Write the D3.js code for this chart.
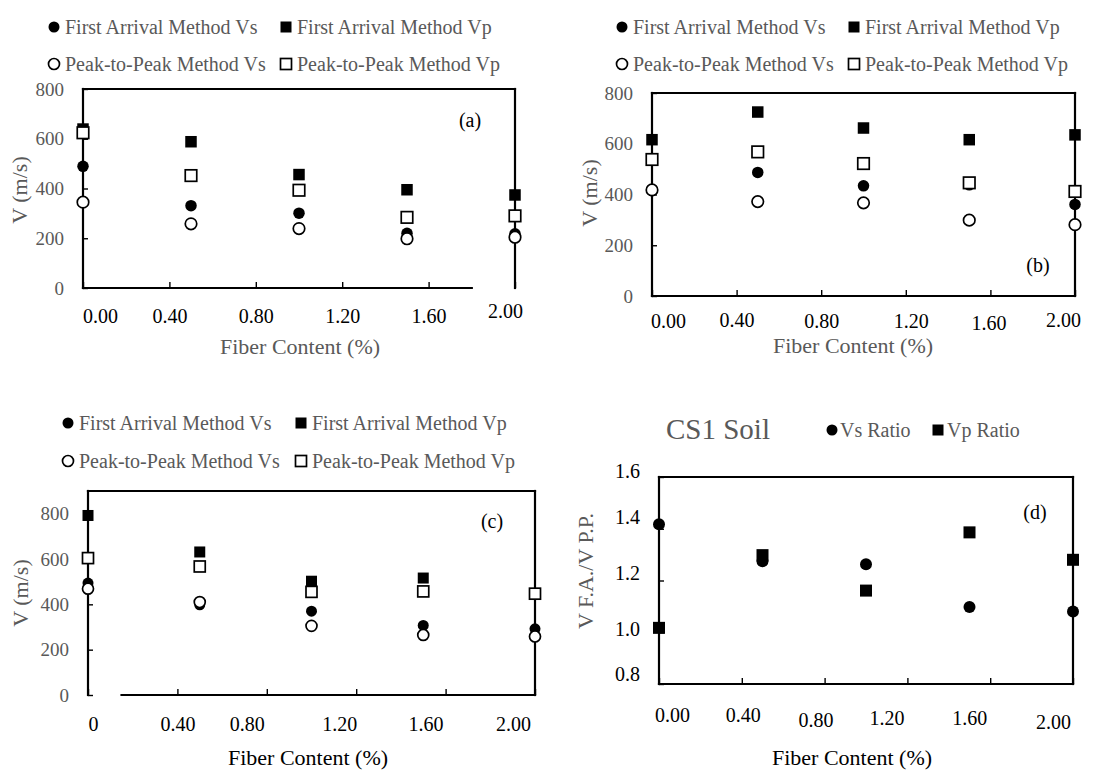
<!DOCTYPE html>
<html>
<head>
  <title>Wave velocity vs fiber content</title>
  <script src="https://cdn.jsdelivr.net/npm/d3@7"></script>
  <style>
    body { margin: 0; background: #fff; }
    svg { display: block; }
  </style>
</head>
<body>
  <div id="chart"></div>
  <script>
    // ---- data ----
    const fiber = [0, 0.5, 1.0, 1.5, 2.0];
    const xTicks = [0, 0.4, 0.8, 1.2, 1.6, 2.0];
    const xTickLabels = ["0.00", "0.40", "0.80", "1.20", "1.60", "2.00"];
    const xTickLabelsC = ["0", "0.40", "0.80", "1.20", "1.60", "2.00"];
    const vTicks = [0, 200, 400, 600, 800];
    const ratioTicks = [0.8, 1.0, 1.2, 1.4, 1.6];
    const ratioTickLabels = ["0.8", "1.0", "1.2", "1.4", "1.6"];

    const seriesNames = ["First Arrival Method Vs", "First Arrival Method Vp",
                         "Peak-to-Peak Method Vs", "Peak-to-Peak Method Vp"];
    const ratioNames = ["Vs Ratio", "Vp Ratio"];

    // panel (a)
    const faVsA = [489, 331, 301, 220, 218];
    const faVpA = [639, 588, 456, 395, 374];
    const ppVsA = [345, 258, 239, 198, 204];
    const ppVpA = [624, 452, 393, 284, 290];
    // panel (b)
    const faVsB = [415, 487, 434, 438, 361];
    const faVpB = [616, 725, 662, 616, 635];
    const ppVsB = [418, 372, 367, 299, 281];
    const ppVpB = [538, 568, 522, 446, 412];
    // panel (c)
    const faVsC = [494, 398, 370, 307, 292];
    const faVpC = [792, 631, 502, 516, 446];
    const ppVsC = [469, 410, 305, 265, 258];
    const ppVpC = [604, 567, 455, 457, 447];
    // panel (d) - CS1 soil ratios
    const vsRatio = [1.417, 1.274, 1.263, 1.098, 1.080];
    const vpRatio = [1.017, 1.298, 1.161, 1.386, 1.280];

    const FONT = "'Palatino Linotype', 'Book Antiqua', Palatino, 'Liberation Serif', serif";
    const GREY = "#595959";

    const svg = d3.select("#chart").append("svg")
      .attr("width", 1100).attr("height", 774)
      .style("background", "#fff");

    function marker(sel, shape, filled, size) {
      if (shape === "circle") {
        sel.append("circle").attr("r", size / 2);
      } else {
        sel.append("rect").attr("x", -size / 2).attr("y", -size / 2)
          .attr("width", size).attr("height", size);
      }
      sel.selectAll("circle,rect")
        .attr("fill", filled ? "#000" : "#fff")
        .attr("stroke", "#000")
        .attr("stroke-width", filled ? 0 : 1.7);
    }

    function drawPanel(p) {
      const g = svg.append("g");
      const x = d3.scaleLinear().domain([0, 2]).range([p.left, p.right]);
      const y = d3.scaleLinear().domain(p.yDomain).range([p.bottom, p.top]);
      const [y0, y1] = p.yDomain;

      // frame (bottom line may have a gap, as in the figure)
      const frame = [
        [0, y1, 2, y1], [0, y0, 0, y1], [2, y0, 2, y1],
        [p.bottomFrom, y0, p.bottomTo, y0]
      ];
      g.selectAll("line.frame").data(frame).join("line")
        .attr("class", "frame")
        .attr("x1", d => x(d[0])).attr("y1", d => y(d[1]))
        .attr("x2", d => x(d[2])).attr("y2", d => y(d[3]))
        .attr("stroke", "#000").attr("stroke-width", 2.2)
        .attr("stroke-linecap", "square");

      // x axis
      g.append("g")
        .attr("transform", `translate(0,${p.bottom})`)
        .call(d3.axisBottom(x).tickValues(xTicks).tickSize(-6)
          .tickFormat((d, i) => p.xLabels[i]))
        .call(a => a.select(".domain").remove())
        .call(a => a.selectAll(".tick line").attr("stroke-width", 1.4))
        .call(a => a.selectAll("text")
          .attr("x", (d, i) => p.xdx[i])
          .attr("y", (d, i) => p.xLabelY - p.bottom + p.xdy[i])
          .attr("dy", "0.35em")
          .attr("fill", "#000")
          .style("font-family", FONT).style("font-size", "20px"));

      // y axis
      g.append("g")
        .attr("transform", `translate(${p.left},0)`)
        .call(d3.axisLeft(y).tickValues(p.yTicks).tickSize(-5).tickPadding(19)
          .tickFormat((d, i) => p.yLabels[i]))
        .call(a => a.select(".domain").remove())
        .call(a => a.selectAll(".tick line").attr("stroke-width", 1.4))
        .call(a => a.selectAll("text")
          .attr("y", (d, i) => p.ydy[i])
          .attr("fill", p.yTickColor)
          .style("font-family", FONT).style("font-size", p.yTickSize + "px"));

      // points
      p.series.forEach(s => {
        g.append("g").selectAll("g").data(s.values).join("g")
          .attr("transform", (d, i) => `translate(${x(fiber[i])},${y(d)})`)
          .each(function () { marker(d3.select(this), s.shape, s.filled, p.ms); });
      });

      // axis titles
      g.append("text").text("Fiber Content (%)")
        .attr("x", p.xTitle[0]).attr("y", p.xTitle[1])
        .attr("text-anchor", "middle").attr("dominant-baseline", "central")
        .attr("fill", p.xTitleColor)
        .style("font-family", FONT).style("font-size", "22px");
      g.append("text").text(p.yTitleText)
        .attr("transform", `translate(${p.yTitle[0]},${p.yTitle[1]}) rotate(-90)`)
        .attr("text-anchor", "middle").attr("dominant-baseline", "central")
        .attr("fill", GREY)
        .style("font-family", FONT).style("font-size", "22px");

      // panel tag
      g.append("text").text(p.tag)
        .attr("x", p.tagPos[0]).attr("y", p.tagPos[1])
        .attr("text-anchor", "middle").attr("dominant-baseline", "central")
        .attr("fill", "#000")
        .style("font-family", FONT).style("font-size", "20px");

      // legend
      p.legend.forEach(l => {
        const lg = g.append("g").attr("transform", `translate(${l.x},${l.y})`);
        marker(lg, l.shape, l.filled, 11);
        lg.append("text").text(l.label)
          .attr("x", l.tx).attr("dominant-baseline", "central")
          .attr("fill", GREY)
          .style("font-family", FONT).style("font-size", "20px");
      });
    }

    function velocityLegend(x1, x2, r1, r2) {
      return [
        { x: x1, y: r1, tx: 11, shape: "circle", filled: true, label: seriesNames[0] },
        { x: x2, y: r1, tx: 11, shape: "square", filled: true, label: seriesNames[1] },
        { x: x1, y: r2, tx: 11, shape: "circle", filled: false, label: seriesNames[2] },
        { x: x2, y: r2, tx: 11, shape: "square", filled: false, label: seriesNames[3] }
      ];
    }

    function velocitySeries(fvs, fvp, pvs, pvp) {
      return [
        { values: fvs, shape: "circle", filled: true },
        { values: fvp, shape: "square", filled: true },
        { values: pvs, shape: "circle", filled: false },
        { values: pvp, shape: "square", filled: false }
      ];
    }

    const vLabels = vTicks.map(String);

    // (a)
    drawPanel({
      left: 83, right: 515, top: 89, bottom: 288,
      yDomain: [0, 800], yTicks: vTicks, yLabels: vLabels, ydy: [0, 0, 0, 0, 0],
      yTickColor: GREY, yTickSize: 19,
      bottomFrom: 0, bottomTo: 1.8,
      xLabels: xTickLabels, xLabelY: 316,
      xdx: [17, 0, 0, 0, 0, -10], xdy: [0, 0, 0, 0, 0, -5],
      xTitle: [300, 346], xTitleColor: GREY,
      yTitleText: "V (m/s)", yTitle: [19, 190],
      tag: "(a)", tagPos: [470, 120], ms: 11.5,
      series: velocitySeries(faVsA, faVpA, ppVsA, ppVpA),
      legend: velocityLegend(54, 286, 27, 64)
    });

    // (b)
    drawPanel({
      left: 652, right: 1075, top: 93, bottom: 296,
      yDomain: [0, 800], yTicks: vTicks, yLabels: vLabels, ydy: [0, 0, 0, 0, 0],
      yTickColor: GREY, yTickSize: 19,
      bottomFrom: 0, bottomTo: 2,
      xLabels: xTickLabels, xLabelY: 321,
      xdx: [16, 0, 0, 5, -2, -12], xdy: [0, -1, 0, 0, 2, -1],
      xTitle: [853, 345], xTitleColor: GREY,
      yTitleText: "V (m/s)", yTitle: [589, 193],
      tag: "(b)", tagPos: [1038, 265], ms: 11.5,
      series: velocitySeries(faVsB, faVpB, ppVsB, ppVpB),
      legend: velocityLegend(622, 854, 27, 64)
    });

    // (c)
    drawPanel({
      left: 88, right: 535, top: 491, bottom: 695,
      yDomain: [0, 900], yTicks: vTicks, yLabels: vLabels, ydy: [0, 0, 0, 0, 0],
      yTickColor: GREY, yTickSize: 19,
      bottomFrom: 0.15, bottomTo: 2,
      xLabels: xTickLabelsC, xLabelY: 724,
      xdx: [5, 0, -20, -17, -20, -22], xdy: [0, 0, 0, 0, 0, 0],
      xTitle: [308, 757], xTitleColor: "#000",
      yTitleText: "V (m/s)", yTitle: [20, 593],
      tag: "(c)", tagPos: [492, 521], ms: 11,
      series: velocitySeries(faVsC, faVpC, ppVsC, ppVpC),
      legend: velocityLegend(68, 301, 423, 461)
    });

    // (d)
    drawPanel({
      left: 659, right: 1073, top: 477, bottom: 684,
      yDomain: [0.8, 1.6], yTicks: ratioTicks, yLabels: ratioTickLabels,
      ydy: [-10, -3, -7, -12, -6],
      yTickColor: "#000", yTickSize: 20,
      bottomFrom: 0, bottomTo: 2,
      xLabels: xTickLabels, xLabelY: 715,
      xdx: [13, 1, -9, -21, -21, -20], xdy: [0, 0, 5, 3, 3, 7],
      xTitle: [852, 757], xTitleColor: "#000",
      yTitleText: "V F.A./V P.P.", yTitle: [585, 571],
      tag: "(d)", tagPos: [1035, 512], ms: 12,
      series: [
        { values: vsRatio, shape: "circle", filled: true },
        { values: vpRatio, shape: "square", filled: true }
      ],
      legend: [
        { x: 832, y: 430, tx: 8, shape: "circle", filled: true, label: ratioNames[0] },
        { x: 938, y: 430, tx: 9, shape: "square", filled: true, label: ratioNames[1] }
      ]
    });

    svg.append("text").text("CS1 Soil")
      .attr("x", 666).attr("y", 429)
      .attr("dominant-baseline", "central")
      .attr("fill", GREY)
      .style("font-family", FONT).style("font-size", "29px");
  </script>
</body>
</html>
